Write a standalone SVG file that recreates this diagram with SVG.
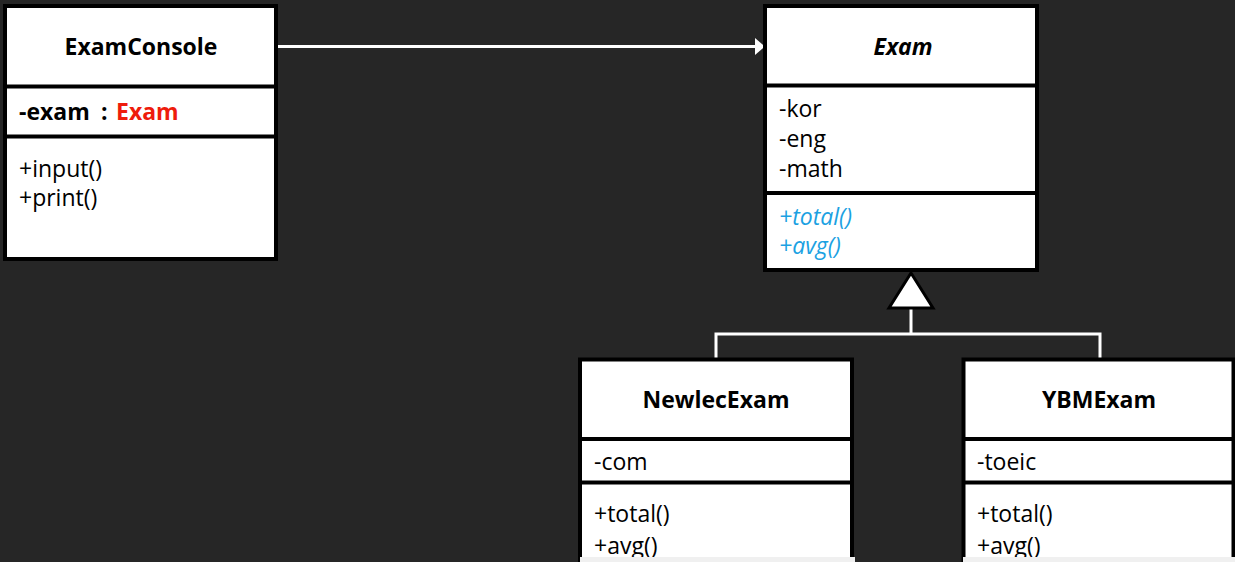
<svg xmlns="http://www.w3.org/2000/svg" width="1235" height="562" viewBox="0 0 1235 562">
<style>
.box{fill:#fff;stroke:#000;stroke-width:4}
.div{stroke:#000;stroke-width:4}
.t{font-family:"Open Sans","Noto Sans",sans-serif;font-size:23px;fill:#000}
.b{font-weight:bold}
.c{text-anchor:middle}
.i{font-style:italic}
.blue{fill:#1ba1e2}
.red{fill:#ee1c0c}
.con{stroke:#fff;stroke-width:3;fill:none}
.strip{fill:#f0f0f0}
</style>
<defs>
<marker id="arr" markerWidth="10" markerHeight="17" refX="10" refY="8.5" orient="auto" markerUnits="userSpaceOnUse">
<path d="M0,0 L10,8.5 L0,17 Z" fill="#fff"/>
</marker>
</defs>
<rect width="1235" height="562" fill="#262626"/>
<g id="connectors">
<line class="con" x1="277" y1="46.5" x2="765" y2="46.5" marker-end="url(#arr)"/>
<polyline class="con" points="716,360 716,334 1100,334 1100,360"/>
<line class="con" x1="911" y1="308" x2="911" y2="334"/>
<polygon points="911,273 889,308 933,308" fill="#fff" stroke="#000" stroke-width="3"/>
</g>
<g id="ExamConsole">
<rect class="box" x="5" y="6" width="271" height="253"/>
<line class="div" x1="5" y1="86.5" x2="276" y2="86.5"/>
<line class="div" x1="5" y1="136.5" x2="276" y2="136.5"/>
<text class="t b c" x="141" y="55">ExamConsole</text>
<text class="t b" x="19" y="120">-exam<tspan x="101">:</tspan><tspan class="red" x="116">Exam</tspan></text>
<text class="t" x="19" y="177">+input()</text>
<text class="t" x="19" y="206">+print()</text>
</g>
<g id="Exam">
<rect class="box" x="765" y="6" width="272" height="264"/>
<line class="div" x1="765" y1="85.5" x2="1037" y2="85.5"/>
<line class="div" x1="765" y1="193" x2="1037" y2="193"/>
<text class="t b i c" x="903" y="55">Exam</text>
<text class="t" x="779" y="117">-kor</text>
<text class="t" x="779" y="147">-eng</text>
<text class="t" x="779" y="177">-math</text>
<text class="t i blue" x="779" y="225">+total()</text>
<text class="t i blue" x="779" y="254">+avg()</text>
</g>
<g id="NewlecExam">
<rect class="box" x="580" y="359.5" width="272" height="220"/>
<line class="div" x1="580" y1="439" x2="852" y2="439"/>
<line class="div" x1="580" y1="482.5" x2="852" y2="482.5"/>
<text class="t b c" x="716" y="408">NewlecExam</text>
<text class="t" x="594" y="470">-com</text>
<text class="t" x="594" y="522">+total()</text>
<text class="t" x="594" y="554">+avg()</text>
<rect class="strip" x="580" y="557" width="275" height="5"/>
</g>
<g id="YBMExam">
<rect class="box" x="963.5" y="359.5" width="270" height="220"/>
<line class="div" x1="963.5" y1="439" x2="1233.5" y2="439"/>
<line class="div" x1="963.5" y1="482.5" x2="1233.5" y2="482.5"/>
<text class="t b c" x="1099" y="408">YBMExam</text>
<text class="t" x="977" y="470">-toeic</text>
<text class="t" x="977" y="522">+total()</text>
<text class="t" x="977" y="554">+avg()</text>
<rect class="strip" x="963" y="557" width="272" height="5"/>
</g>
</svg>
